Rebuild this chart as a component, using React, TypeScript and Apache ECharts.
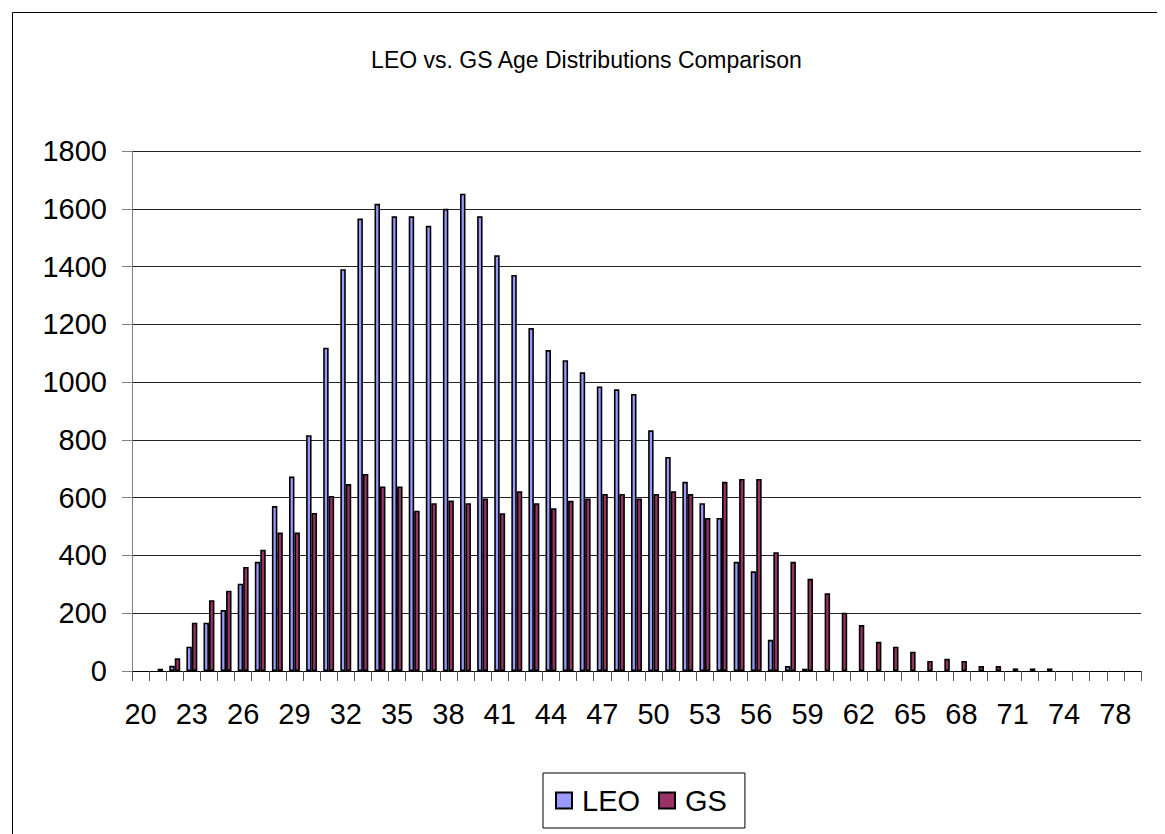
import React, { useEffect, useRef } from "react";
import * as echarts from "echarts";

const ages: string[] = [
  "20","21","22","23","24","25","26","27","28","29",
  "30","31","32","33","34","35","36","37","38","39",
  "40","41","42","43","44","45","46","47","48","49",
  "50","51","52","53","54","55","56","57","58","59",
  "60","61","62","63","64","65","66","67","68","69",
  "70","71","72","73","74","75","76","78","79",
];

const leoValues: number[] = [
  0, 0, 18, 84, 167, 211, 302, 378, 571, 673,
  816, 1119, 1391, 1566, 1617, 1574, 1574, 1541, 1600, 1652,
  1574, 1439, 1371, 1187, 1111, 1076, 1034, 985, 975, 959,
  833, 741, 655, 581, 530, 378, 345, 108, 17, 8,
  0, 0, 0, 0, 0, 0, 0, 0, 0, 0,
  0, 0, 0, 0, 0, 0, 0, 0, 0,
];

const gsValues: number[] = [
  0, 8, 44, 167, 245, 278, 360, 420, 479, 479,
  547, 606, 647, 682, 639, 639, 555, 581, 590, 581,
  597, 546, 622, 581, 563, 589, 597, 613, 613, 597,
  613, 622, 613, 530, 655, 665, 665, 411, 378, 319,
  269, 202, 159, 101, 84, 67, 35, 42, 35, 17,
  17, 9, 9, 9, 0, 0, 0, 0, 0,
];

const yTicks = { min: 0, max: 1800, interval: 200 };
const font = "'Liberation Sans', Arial, sans-serif";

const hideZero = (arr: number[]) => arr.map((v) => (v === 0 ? null : v));

export default function App() {
  const ref = useRef<HTMLDivElement>(null);
  useEffect(() => {
    if (!ref.current) return;
    const chart = echarts.init(ref.current, null, { renderer: "svg" });
    chart.setOption({
      animation: false,
      backgroundColor: "#fff",
      title: {
        text: "LEO vs. GS Age Distributions Comparison",
        left: "center",
        top: 35,
        textStyle: { fontFamily: font, fontSize: 23, fontWeight: "normal", color: "#000" },
      },
      graphic: [
        {
          type: "rect",
          left: 2,
          top: 2,
          shape: { width: 1200, height: 900 },
          style: { fill: "none", stroke: "#000", lineWidth: 1 },
          silent: true,
          z: -1,
        },
      ],
      legend: {
        data: ["LEO", "GS"],
        left: 535,
        top: 765,
        orient: "horizontal",
        borderColor: "#000",
        borderWidth: 1,
        padding: [13, 18, 13, 12],
        itemWidth: 16,
        itemHeight: 16,
        itemGap: 18,
        icon: "rect",
        textStyle: { fontFamily: font, fontSize: 29, color: "#000", padding: [0, 0, 0, 5] },
      },
      grid: { left: 124, right: 24, top: 143, bottom: 163, containLabel: false },
      xAxis: {
        type: "category",
        data: ages,
        boundaryGap: true,
        axisLine: { show: true, lineStyle: { color: "#000", width: 1 } },
        axisTick: { show: true, interval: 0, length: 10, lineStyle: { color: "#555" } },
        axisLabel: {
          interval: 2,
          margin: 28,
          fontFamily: font,
          fontSize: 29,
          color: "#000",
        },
        splitLine: { show: false },
      },
      yAxis: {
        type: "value",
        min: yTicks.min,
        max: yTicks.max,
        interval: yTicks.interval,
        axisLine: { show: true, lineStyle: { color: "#808080", width: 1 } },
        axisTick: { show: true, length: 10, lineStyle: { color: "#808080" } },
        axisLabel: {
          margin: 25,
          fontFamily: font,
          fontSize: 29,
          color: "#000",
          formatter: (v: number) => String(v),
        },
        splitLine: { show: true, lineStyle: { color: "#222", width: 1 } },
      },
      series: [
        {
          name: "LEO",
          type: "bar",
          data: hideZero(leoValues),
          barGap: "0%",
          barCategoryGap: "36%",
          itemStyle: { color: "#9999FF", borderColor: "#000", borderWidth: 1.6 },
        },
        {
          name: "GS",
          type: "bar",
          data: hideZero(gsValues),
          barGap: "0%",
          barCategoryGap: "36%",
          itemStyle: { color: "#993366", borderColor: "#000", borderWidth: 1.6 },
        },
      ],
    });
    return () => chart.dispose();
  }, []);
  return <div ref={ref} style={{ width: 1157, height: 826 }} />;
}
